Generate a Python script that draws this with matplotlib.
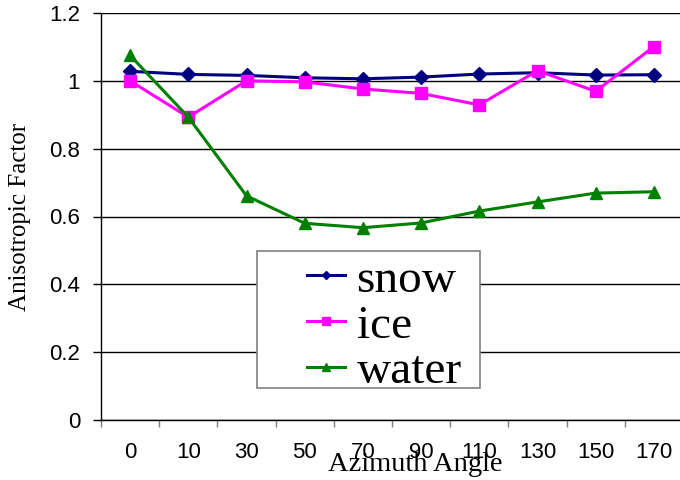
import matplotlib
matplotlib.use("Agg")
import matplotlib.pyplot as plt
from matplotlib.patches import Rectangle
import numpy as np

angles = ["0", "10", "30", "50", "70", "90", "110", "130", "150", "170"]
snow = [1.028, 1.019, 1.016, 1.009, 1.006, 1.011, 1.020, 1.024, 1.017, 1.018]
ice = [1.000, 0.893, 1.000, 0.997, 0.976, 0.963, 0.929, 1.030, 0.969, 1.101]
water = [1.075, 0.893, 0.661, 0.580, 0.567, 0.581, 0.616, 0.643, 0.669, 0.673]

serif = "Liberation Serif"
sans = "Liberation Sans"

fig = plt.figure(figsize=(6.8, 4.8), dpi=100)
ax = fig.add_axes([101 / 680, 60 / 480, 582 / 680, 407 / 480])

x = np.arange(len(angles))
ax.plot(x, snow, color="#000080", lw=2.2, marker="D", ms=7, label="snow")
ax.plot(x, ice, color="#FF00FF", lw=2.2, marker="s", ms=8, label="ice")
ax.plot(x, water, color="#008000", lw=2.2, marker="^", ms=9, label="water")

ax.set_xlim(-0.5, len(angles) - 0.5)
ax.set_ylim(0, 1.2)
ax.set_yticks(np.arange(0, 1.21, 0.2))
ax.set_yticklabels(["0", "0.2", "0.4", "0.6", "0.8", "1", "1.2"], fontfamily=sans, fontsize=16)
ax.yaxis.grid(True, color="black", lw=1.0)
ax.set_axisbelow(True)

# category labels centered, tick marks at the boundaries
ax.set_xticks(x)
ax.set_xticklabels(angles, fontfamily=sans, fontsize=16)
ax.set_xticks(np.arange(-0.5, len(angles), 1.0), minor=True)
ax.tick_params(axis="x", which="major", length=0, pad=15.5)
ax.tick_params(axis="x", which="minor", length=5, width=1, color="#808080", direction="out")
ax.tick_params(axis="y", length=6, width=1, pad=9, direction="out")

for side in ("top", "right"):
    ax.spines[side].set_visible(False)
ax.spines["left"].set_linewidth(1.0)
ax.spines["bottom"].set_linewidth(1.0)

ax.set_xlabel("Azimuth Angle", fontfamily=serif, fontsize=20.5)
ax.xaxis.set_label_coords(0.54, -0.078)
ax.set_ylabel("Anisotropic Factor", fontfamily=serif, fontsize=18)
ax.yaxis.set_label_coords(-0.12, 0.5)

# legend box drawn separately so the entries can sit off-center in it
box = Rectangle((257 / 680, 1 - 388 / 480), 223 / 680, 137 / 480,
                transform=fig.transFigure, facecolor="white", edgecolor="#808080",
                lw=1.2, zorder=4, clip_on=False)
ax.add_patch(box)

leg = ax.legend(loc="center left", bbox_to_anchor=(307 / 680, 1 - 326 / 480),
                bbox_transform=fig.transFigure, borderaxespad=0, borderpad=0,
                prop={"family": serif, "size": 34}, frameon=False,
                handlelength=0.8, handletextpad=0.25, labelspacing=0.06,
                markerscale=0.65)
leg.set_zorder(5)

fig.savefig("out.png", dpi=100)
